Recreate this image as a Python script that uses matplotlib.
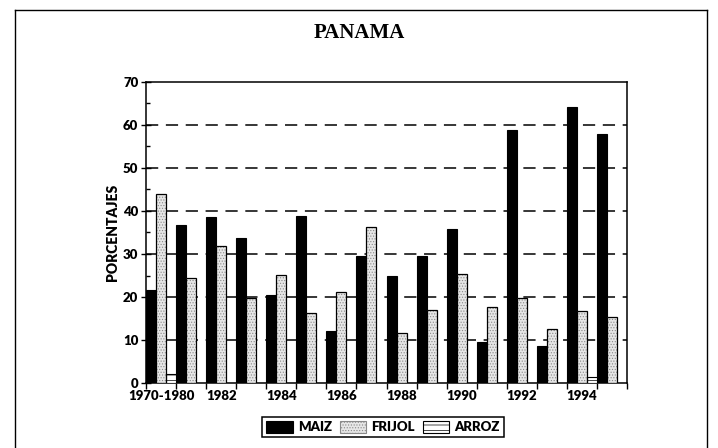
import matplotlib
matplotlib.use("Agg")
import matplotlib.pyplot as plt
import numpy as np
from matplotlib.lines import Line2D
from matplotlib.ticker import MultipleLocator, FixedLocator

years = ['1970-1980', '1981', '1982', '1983', '1984', '1985', '1986', '1987',
         '1988', '1989', '1990', '1991', '1992', '1993', '1994', '1995']
maiz = [21.6, 36.8, 38.5, 33.7, 20.5, 38.8, 12.0, 29.5, 25.0, 29.5, 35.8, 9.6, 58.9, 8.5, 64.1, 57.9]
frijol = [44.0, 24.4, 31.8, 19.7, 25.1, 16.2, 21.2, 36.2, 11.6, 17.0, 25.4, 17.7, 19.7, 12.5, 16.7, 15.3]
arroz = [2.0, 0, 0, 0, 0, 0, 0, 0, 0, 0, 0, 0, 0, 0, 1.4, 0]
shown_labels = ['1970-1980', '1982', '1984', '1986', '1988', '1990', '1992', '1994']

sans = ['Lato', 'DejaVu Sans']
plt.rcParams['hatch.linewidth'] = 0.5

fig = plt.figure(figsize=(7.18, 4.48), dpi=100)
ax = fig.add_axes([146/718, 65/448, 481/718, 301/448])

x = np.arange(len(years))
w = 1/3
ax.bar(x - w, maiz, width=w, color='black', edgecolor='black', linewidth=0.8, label='MAIZ', zorder=3)
# frijol: light stipple fill plus black outline
ax.bar(x, frijol, width=w, color='#e6e6e6', edgecolor='#8a8a8a', linewidth=0, hatch='......',
       zorder=3)
ax.bar(x, frijol, width=w, fill=False, edgecolor='black', linewidth=0.9, zorder=4)
ax.bar(x + w, arroz, width=w, color='white', edgecolor='black', linewidth=0.8, hatch='---',
       zorder=3)

ax.set_xlim(-0.5, len(years) - 0.5)
ax.set_ylim(0, 70)
ax.yaxis.set_major_locator(MultipleLocator(10))
ax.yaxis.set_minor_locator(MultipleLocator(5))
for g in range(10, 70, 10):
    ax.axhline(g, color='black', linewidth=1.1, linestyle=(0, (8, 5)), zorder=1)

# category boundaries as major ticks, labels as minor ticks
ax.xaxis.set_major_locator(FixedLocator(np.arange(-0.5, len(years), 1.0)))
ax.set_xticklabels([])
pos = [years.index(l) for l in shown_labels]
ax.xaxis.set_minor_locator(FixedLocator(pos))
ax.set_xticklabels(shown_labels, minor=True, fontfamily=sans, fontweight='heavy', fontsize=9.5)
ax.tick_params(axis='x', which='major', direction='out', length=4, width=1)
ax.tick_params(axis='x', which='minor', length=0, pad=5)
ax.tick_params(axis='y', which='major', direction='inout', length=7, width=1, pad=2)
ax.tick_params(axis='y', which='minor', direction='in', length=3, width=1)
for lab in ax.get_yticklabels():
    lab.set_fontfamily(sans)
    lab.set_fontweight('heavy')
    lab.set_fontsize(9.5)

for s in ax.spines.values():
    s.set_linewidth(1.1)

ax.set_ylabel('PORCENTAJES', fontfamily=sans, fontweight='heavy', fontsize=10, labelpad=3)

fig.text(0.5, 1 - 33/448, 'PANAMA', ha='center', va='center', fontfamily='Liberation Serif',
         fontweight='bold', fontsize=15)

handles = [
    plt.Rectangle((0, 0), 1, 1, facecolor='black', edgecolor='black', linewidth=0.8),
    plt.Rectangle((0, 0), 1, 1, facecolor='#e6e6e6', edgecolor='#8a8a8a', linewidth=0.8,
                  hatch='......'),
    plt.Rectangle((0, 0), 1, 1, facecolor='white', edgecolor='black', linewidth=0.8, hatch='---'),
]
leg = fig.legend(handles, ['MAIZ', 'FRIJOL', 'ARROZ'], loc='center',
                 bbox_to_anchor=(383/718, 1 - 427/448), ncol=3, frameon=True,
                 fancybox=False, edgecolor='black', framealpha=1, borderpad=0.3,
                 handlelength=2.0, handleheight=1.0, handletextpad=0.4, columnspacing=0.6,
                 borderaxespad=0, prop={'family': sans, 'weight': 'heavy', 'size': 9.5})
leg.get_frame().set_linewidth(1.1)

# outer frame
fx0, fx1 = 15/718, 707/718
fy1 = 1 - 10/448
for xs, ys in [([fx0, fx1], [fy1, fy1]), ([fx0, fx0], [0, fy1]), ([fx1, fx1], [0, fy1])]:
    fig.add_artist(Line2D(xs, ys, color='black', linewidth=1.0, transform=fig.transFigure))

fig.savefig('out.png', dpi=100)
